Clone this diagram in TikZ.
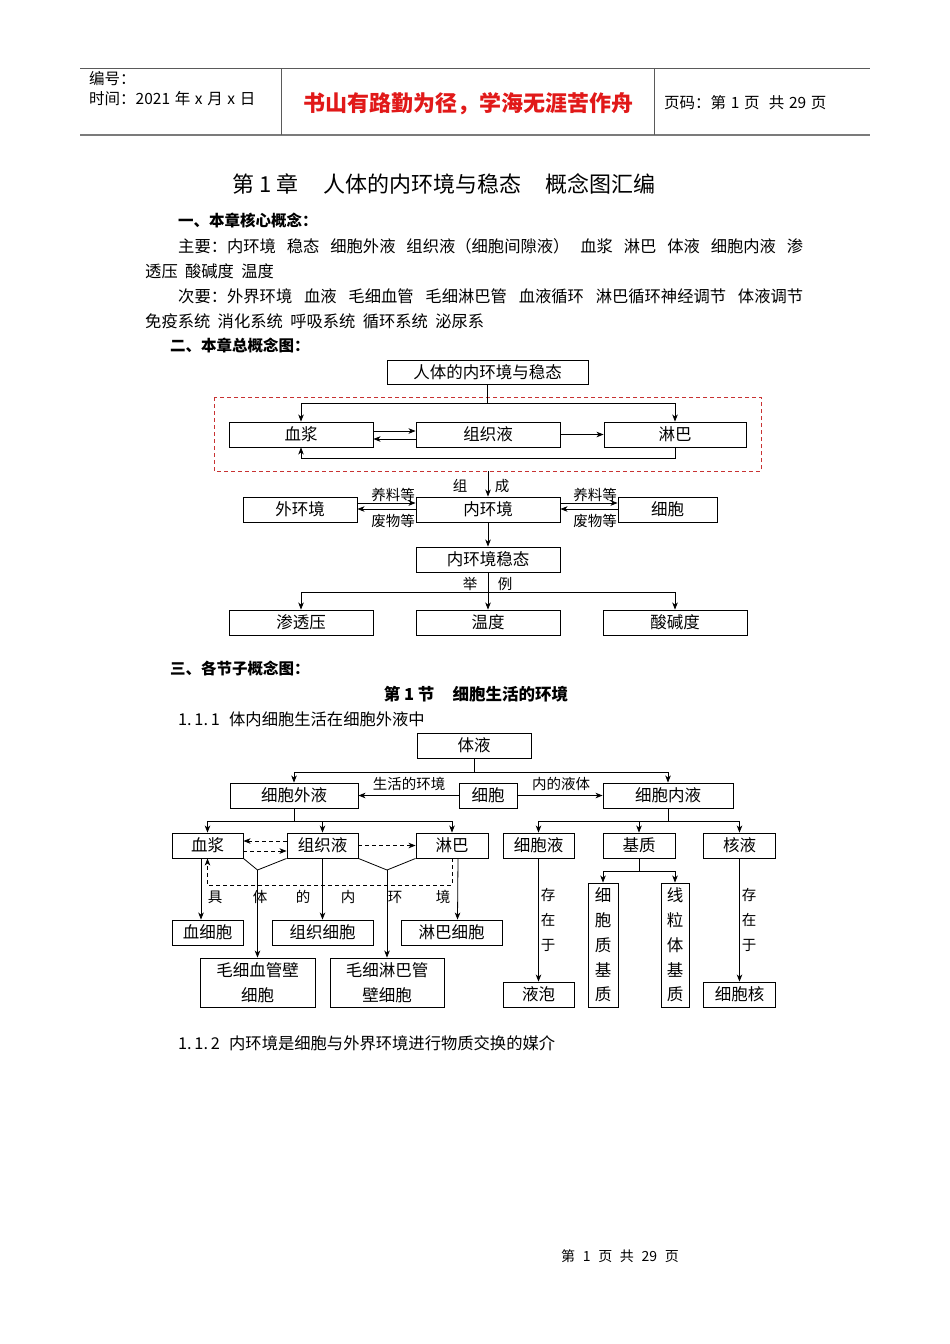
\documentclass[tikz,border=0pt]{standalone}
\usepackage{fontspec}
\setmainfont{Noto Sans CJK SC}
\usetikzlibrary{arrows.meta}
\definecolor{dashred}{RGB}{200,50,50}
\definecolor{hdrred}{RGB}{225,25,25}
\definecolor{hdrgray}{RGB}{90,90,90}
\newcommand\wsp{\spaceskip=0.45em plus 2em minus 0.1em\relax}
\newcommand\hsp{\spaceskip=0.3em\relax}
\newcommand\fsp{\spaceskip=0.55em\relax}
\tikzset{
  box/.style={draw, line width=0.9pt, inner sep=0pt, font=\fontsize{16.5}{18}\selectfont},
  arr/.style={-{Stealth[length=7pt,width=5.5pt,inset=2pt]}, line width=0.8pt},
  ln/.style={line width=0.8pt},
  dsh/.style={dash pattern=on 4pt off 3pt},
  lbl/.style={inner sep=0pt, font=\fontsize{14.5}{16}\selectfont},
  body/.style={inner sep=0pt, anchor=west, font=\fontsize{16.3}{18}\selectfont\wsp},
  head/.style={inner sep=0pt, anchor=west, font=\fontsize{15.5}{18}\selectfont\bfseries},
}
\begin{document}
\begin{tikzpicture}[x=1pt,y=-1pt]
\path[fill=white,use as bounding box] (0,0) rectangle (950,1344);

% ---------- header ----------
\draw[line width=0.9pt, hdrgray] (80,68) -- (870,68);
\draw[line width=1.8pt, hdrgray!80] (80,135) -- (870,135);
\draw[line width=0.9pt, hdrgray] (281,68) -- (281,135);
\draw[line width=0.9pt, hdrgray] (654,68) -- (654,135);
\node[body, font=\fontsize{15.5}{17}\selectfont\hsp] (bh) at (89,79) {编号：};
\node[body, font=\fontsize{15.5}{17}\selectfont\hsp] (sj) at (89,99) {时间：2021 年 x 月 x 日};
\node[inner sep=0pt, text=hdrred, font=\fontsize{22}{24}\selectfont\bfseries] (motto) at (468,104) {书山有路勤为径，学海无涯苦作舟};
\node[body, font=\fontsize{15.5}{17}\selectfont\hsp] (ym) at (664,103) {页码：第 1 页 \ 共 29 页};

% ---------- title & text ----------
\node[inner sep=0pt, font=\fontsize{22}{24}\selectfont] (title) at (444,184) {第 1 章\hspace{1.1em}人体的内环境与稳态\hspace{1.1em}概念图汇编};
\node[head] (h1) at (178,221) {一、本章核心概念：};
\node[body] (t1) at (178,246) {\makebox[625pt][s]{主要：内环境 稳态 细胞外液 组织液（细胞间隙液） 血浆 淋巴 体液 细胞内液 渗}};
\node[body] (t2) at (145,271) {透压 酸碱度 温度};
\node[body] (t3) at (178,296) {\makebox[625pt][s]{次要：外界环境 血液 毛细血管 毛细淋巴管 血液循环 淋巴循环神经调节 体液调节}};
\node[body] (t4) at (145,321) {免疫系统 消化系统 呼吸系统 循环系统 泌尿系};
\node[head] (h2) at (170,346) {二、本章总概念图：};

% ---------- diagram 1 ----------
\node[box, minimum width=201pt, minimum height=24pt] (top) at (487.5,372) {人体的内环境与稳态};
\draw[dashred, line width=0.9pt, dsh] (214,397) rectangle (761,471);
\node[box, minimum width=144pt, minimum height=25pt] (xj) at (301,434.5) {血浆};
\node[box, minimum width=144pt, minimum height=25pt] (zzy) at (488,434.5) {组织液};
\node[box, minimum width=142pt, minimum height=25pt] (lb) at (675,434.5) {淋巴};
\draw[ln] (top.south) -- ++(0,19) coordinate (j1);
\draw[arr] (j1) -| (xj.north);
\draw[arr] (j1) -| (lb.north);
\draw[arr] ([yshift=3.5pt]xj.east) -- ([yshift=3.5pt]zzy.west);
\draw[arr] ([yshift=-4.5pt]zzy.west) -- ([yshift=-4.5pt]xj.east);
\draw[arr] (zzy.east) -- (lb.west);
\draw[arr] (lb.south) -- ++(0,11) -| (xj.south);

\node[box, minimum width=144pt, minimum height=25pt] (nhj) at (488,509.5) {内环境};
\node[box, minimum width=114pt, minimum height=25pt] (whj) at (300,509.5) {外环境};
\node[box, minimum width=99pt, minimum height=25pt] (xb) at (667.5,509.5) {细胞};
\coordinate (d1) at (488,471);
\draw[arr] (d1) -- (nhj.north);
\node[lbl] (lz) at (460,486) {组};
\node[lbl] (lc) at (502,486) {成};
\draw[arr] ([yshift=6.5pt]whj.east) -- ([yshift=6.5pt]nhj.west);
\draw[arr] ([yshift=0.5pt]nhj.west) -- ([yshift=0.5pt]whj.east);
\node[lbl] (yl1) at (393,495) {养料等};
\node[lbl] (fw1) at (393,521) {废物等};
\draw[arr] ([yshift=6.5pt]nhj.east) -- ([yshift=6.5pt]xb.west);
\draw[arr] ([yshift=0.5pt]xb.west) -- ([yshift=0.5pt]nhj.east);
\node[lbl] (yl2) at (595,495) {养料等};
\node[lbl] (fw2) at (595,521) {废物等};

\node[box, minimum width=144pt, minimum height=25pt] (wt) at (488,559.5) {内环境稳态};
\draw[arr] (nhj.south) -- (wt.north);
\node[box, minimum width=144pt, minimum height=25pt] (stp) at (301,622.5) {渗透压};
\node[box, minimum width=144pt, minimum height=25pt] (wd) at (488,622.5) {温度};
\node[box, minimum width=144pt, minimum height=25pt] (sjd) at (675,622.5) {酸碱度};
\draw[ln] (wt.south) -- ++(0,19.5) coordinate (j2);
\draw[arr] (j2) -| (stp.north);
\draw[arr] (j2) -| (sjd.north);
\draw[arr] (wt.south) -- (wd.north);
\node[lbl] (jv) at (470,584) {举};
\node[lbl] (li) at (505,584) {例};

% ---------- section 3 ----------
\node[head] (h3) at (170,669) {三、各节子概念图：};
\node[inner sep=0pt, font=\fontsize{16.5}{18}\selectfont\bfseries] (sec1) at (476,694) {第 1 节\hspace{1.1em}细胞生活的环境};
\node[body] (s111) at (178,719) {\makebox[51pt][l]{1.\,1.\,1}体内细胞生活在细胞外液中};

% ---------- diagram 2 ----------
\node[box, minimum width=114pt, minimum height=25pt] (tiye) at (474,745.5) {体液};
\node[box, minimum width=128pt, minimum height=25pt] (xbwy) at (294,795.5) {细胞外液};
\node[box, minimum width=58pt, minimum height=25pt] (xb2) at (488,795.5) {细胞};
\node[box, minimum width=130pt, minimum height=25pt] (xbny) at (668,795.5) {细胞内液};
\draw[ln] (tiye.south) -- ++(0,13.5) coordinate (j3);
\draw[arr] (j3) -| (xbwy.north);
\draw[arr] (j3) -| (xbny.north);
\draw[arr] (xb2.west) -- (xbwy.east);
\draw[arr] (xb2.east) -- (xbny.west);
\node[lbl] (shhj) at (409,784) {生活的环境};
\node[lbl] (ndyt) at (561,784) {内的液体};

\node[box, minimum width=71pt, minimum height=25pt] (xj2) at (207.5,845.5) {血浆};
\node[box, minimum width=71pt, minimum height=25pt] (zzy2) at (322.5,845.5) {组织液};
\node[box, minimum width=72pt, minimum height=25pt] (lb2) at (452,845.5) {淋巴};
\node[box, minimum width=71pt, minimum height=25pt] (xby) at (538.5,845.5) {细胞液};
\node[box, minimum width=72pt, minimum height=25pt] (jz) at (639,845.5) {基质};
\node[box, minimum width=72pt, minimum height=25pt] (hy) at (739.5,845.5) {核液};
\draw[ln] (xbwy.south) -- ++(0,12.5) coordinate (j4);
\draw[arr] (j4) -| (xj2.north);
\draw[arr] (j4) -| (zzy2.north);
\draw[arr] (j4) -| (lb2.north);
\draw[ln] (xbny.south) -- ++(0,12.5) coordinate (j5);
\draw[arr] (j5) -| (xby.north);
\draw[arr] (j5) -| (jz.north);
\draw[arr] (j5) -| (hy.north);

\draw[arr, dsh] ([yshift=4.5pt]zzy2.west) -- ([yshift=4.5pt]xj2.east);
\draw[arr, dsh] ([yshift=-5.5pt]xj2.east) -- ([yshift=-5.5pt]zzy2.west);
\draw[arr, dsh] (zzy2.east) -- (lb2.west);

\node[box, minimum width=115pt, minimum height=49pt, align=center, font=\fontsize{16.5}{24.5}\selectfont] (mxxg) at (257.5,982.5) {毛细血管壁\\细胞};
\node[box, minimum width=114pt, minimum height=49pt, align=center, font=\fontsize{16.5}{24.5}\selectfont] (mxlb) at (387,982.5) {毛细淋巴管\\壁细胞};
\coordinate (v1) at (257.5,870);
\coordinate (v2) at (387,870);
\draw[ln] (xj2.south east) -- (v1) -- (zzy2.south west);
\draw[arr] (v1) -- (mxxg.north);
\draw[ln] (zzy2.south east) -- (v2) -- (lb2.south west);
\draw[arr] (v2) -- (mxlb.north);

\node[box, minimum width=71pt, minimum height=25pt] (xxb) at (207.5,932.5) {血细胞};
\node[box, minimum width=101pt, minimum height=25pt] (zzxb) at (322.5,932.5) {组织细胞};
\node[box, minimum width=101pt, minimum height=25pt] (lbxb) at (451.5,932.5) {淋巴细胞};
\draw[arr] ([xshift=-6.5pt]xj2.south) -- ([xshift=-6.5pt]xxb.north);
\draw[arr] (zzy2.south) -- (zzxb.north);
\draw[arr] ([xshift=6pt]lb2.south) -- ([xshift=6pt]lbxb.north);
\draw[arr, dsh] (lb2.south) -- ++(0,27) -| (xj2.south);
\node[lbl] (k1) at (215,897) {具};
\node[lbl] (k2) at (260,897) {体};
\node[lbl] (k3) at (303,897) {的};
\node[lbl] (k4) at (348,897) {内};
\node[lbl] (k5) at (395,897) {环};
\node[lbl] (k6) at (443,897) {境};

\node[box, minimum width=71pt, minimum height=25pt] (yp) at (538.5,994.5) {液泡};
\node[box, minimum width=30pt, minimum height=124pt, align=center, font=\fontsize{16.5}{24.7}\selectfont] (xbz) at (603,945) {细\\胞\\质\\基\\质};
\node[box, minimum width=28pt, minimum height=124pt, align=center, font=\fontsize{16.5}{24.7}\selectfont] (xlt) at (675,945) {线\\粒\\体\\基\\质};
\node[box, minimum width=72pt, minimum height=25pt] (xbh) at (739.5,994.5) {细胞核};
\draw[arr] (xby.south) -- (yp.north);
\draw[arr] (hy.south) -- (xbh.north);
\draw[ln] (jz.south) -- ++(0,13) coordinate (j6);
\draw[arr] (j6) -| (xbz.north);
\draw[arr] (j6) -| (xlt.north);
\node[lbl] (c1) at (548,895) {存};
\node[lbl] (c2) at (548,920) {在};
\node[lbl] (c3) at (548,945) {于};
\node[lbl] (c4) at (749,895) {存};
\node[lbl] (c5) at (749,920) {在};
\node[lbl] (c6) at (749,945) {于};

% ---------- bottom text ----------
\node[body] (s112) at (178,1043) {\makebox[51pt][l]{1.\,1.\,2}内环境是细胞与外界环境进行物质交换的媒介};
\node[inner sep=0pt, font=\fontsize{14}{16}\selectfont\fsp] (foot) at (620,1256) {第 1 页 共 29 页};
\end{tikzpicture}
\end{document}
